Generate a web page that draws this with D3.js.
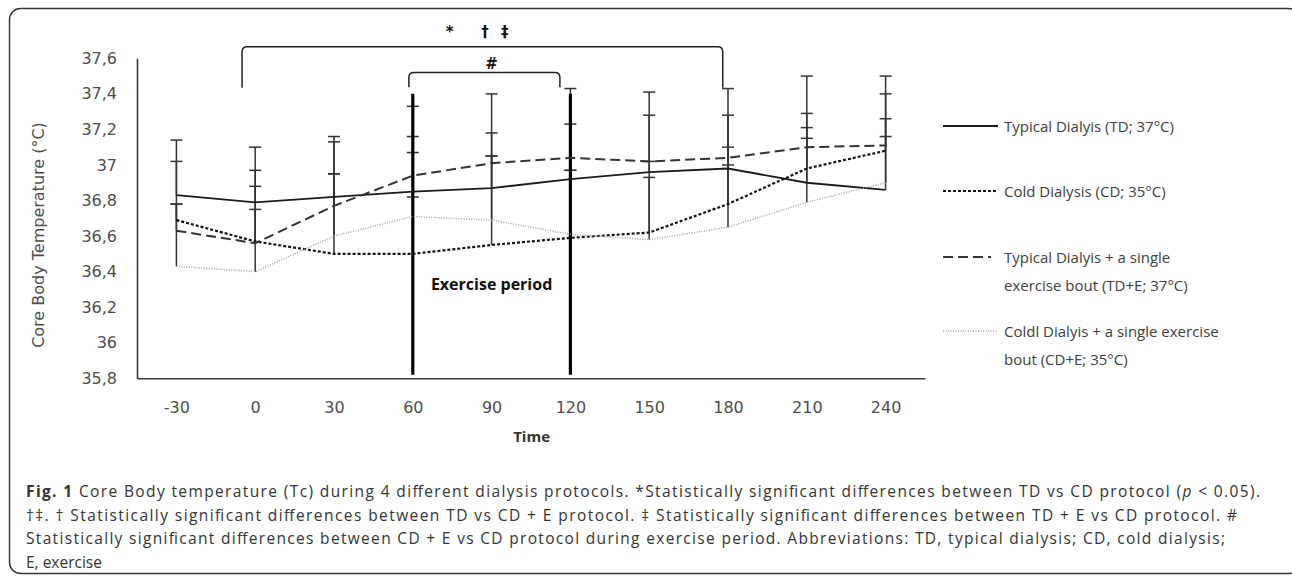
<!DOCTYPE html>
<html>
<head>
<meta charset="utf-8">
<script src="https://cdn.jsdelivr.net/npm/d3@7"></script>
<style>
  body { margin: 0; background: #fff; }
  svg { display: block; }
</style>
</head>
<body>
<div id="chart"></div>
<script>
// time points (min) and y ticks
var times = [-30, 0, 30, 60, 90, 120, 150, 180, 210, 240];
var yTicks = [35.8, 36, 36.2, 36.4, 36.6, 36.8, 37, 37.2, 37.4, 37.6];

// Typical Dialysis (TD)
var tdMean = [36.83, 36.79, 36.82, 36.85, 36.87, 36.92, 36.96, 36.98, 36.90, 36.86];
var tdSD   = [0.31, 0.31, 0.34, 0.48, 0.53, 0.51, 0.45, 0.45, 0.39, 0.30];
// Cold Dialysis (CD)
var cdMean = [36.69, 36.57, 36.50, 36.50, 36.55, 36.59, 36.62, 36.78, 36.98, 37.08];
var cdSD   = [0.33, 0.40, 0.45, 0.32, 0.50, 0.38, 0.40, 0.32, 0.23, 0.32];
// Typical Dialysis + exercise (TD+E)
var tdeMean = [36.63, 36.56, 36.77, 36.94, 37.01, 37.04, 37.02, 37.04, 37.10, 37.11];
var tdeSD   = [0.15, 0.32, 0.36, 0.22, 0.17, 0.19, 0.26, 0.24, 0.40, 0.39];
// Cold Dialysis + exercise (CD+E)
var cdeMean = [36.43, 36.40, 36.60, 36.71, 36.69, 36.61, 36.58, 36.65, 36.79, 36.90];
var cdeSD   = [0.35, 0.35, 0.35, 0.36, 0.36, 0.36, 0.35, 0.35, 0.36, 0.36];

var legendLabels = [
  ["Typical Dialyis (TD; 37°C)"],
  ["Cold Dialysis (CD; 35°C)"],
  ["Typical Dialyis  + a single", "exercise bout (TD+E; 37°C)"],
  ["Coldl Dialyis  + a single exercise", "bout (CD+E; 35°C)"]
];

// exercise period and significance brackets (in time / temperature units)
var exercise = { start: 60, end: 120, top: 37.4 };
var bigBracket = { from: -5, to: 178, top: 37.665, bottom: 37.435 };
var smallBracket = { from: 58.5, to: 116, top: 37.52, bottom: 37.437 };
var symbols = [
  { t: 74, v: 37.75, s: "*" },
  { t: 87.5, v: 37.75, s: "†" },
  { t: 95, v: 37.75, s: "‡" },
  { t: 90, v: 37.572, s: "#" }
];

var captionLines = [
  [{ t: "Fig. 1", b: true }, { t: " Core Body temperature (Tc) during 4 different dialysis protocols. *Statistically significant differences between TD vs CD protocol (" }, { t: "p", i: true }, { t: " < 0.05)." }],
  [{ t: "†‡. † Statistically significant differences between TD vs CD + E protocol. ‡ Statistically significant differences between TD + E vs CD protocol. #" }],
  [{ t: "Statistically significant differences between CD + E vs CD protocol during exercise period. Abbreviations: TD, typical dialysis; CD, cold dialysis;" }],
  [{ t: "E, exercise" }]
];
var captionWidths = [1234, 1211, 1199, null];

var W = 1292, H = 576;
var svg = d3.select("#chart").append("svg")
    .attr("width", W)
    .attr("height", H);

// outer frame
svg.append("rect")
    .attr("x", 9.5).attr("y", 8.5)
    .attr("width", 1290).attr("height", 565)
    .attr("rx", 11).attr("ry", 11)
    .attr("fill", "none")
    .attr("stroke", "#333")
    .attr("stroke-width", 1.4);

var x = d3.scalePoint().domain(times).range([137, 925]).padding(0.5);
var xLin = d3.scaleLinear().domain([-30, 240]).range([x(-30), x(240)]);
var y = d3.scaleLinear().domain([35.8, 37.6]).range([378.3, 58.3]);

var fmt = function(d) { return String(+d.toFixed(1)).replace(".", ","); };

// axes
var gy = svg.append("g").attr("transform", "translate(137,0)")
    .call(d3.axisLeft(y).tickValues(yTicks).tickSize(0).tickPadding(20).tickFormat(fmt));
var gx = svg.append("g").attr("transform", "translate(0,378.3)")
    .call(d3.axisBottom(x).tickSize(0).tickPadding(23).tickSizeOuter(0));
[gy, gx].forEach(function(g) {
  g.select(".domain").attr("stroke", "#3a3a3a").attr("stroke-width", 1.6);
  g.selectAll("text")
      .attr("font-family", "'DejaVu Sans', Verdana, sans-serif")
      .attr("font-size", 16)
      .attr("fill", "#4d4d4d");
});

svg.append("text")
    .attr("transform", "translate(44,235) rotate(-90)")
    .attr("text-anchor", "middle")
    .attr("font-family", "'DejaVu Sans', Verdana, sans-serif")
    .attr("font-size", 16)
    .attr("fill", "#4d4d4d")
    .text("Core Body Temperature (°C)");

svg.append("text")
    .attr("x", x(90) + 40).attr("y", 442)
    .attr("text-anchor", "middle")
    .attr("font-family", "'Open Sans', sans-serif")
    .attr("font-weight", "bold")
    .attr("font-size", 15)
    .attr("fill", "#333")
    .text("Time");

// series setup
var series = [
  { mean: tdMean, sd: tdSD },
  { mean: cdMean, sd: cdSD },
  { mean: tdeMean, sd: tdeSD },
  { mean: cdeMean, sd: cdeSD }
];
var styles = [
  { stroke: "#1a1a1a", width: 1.8, dash: null },
  { stroke: "#111", width: 2.2, dash: "3,2" },
  { stroke: "#333", width: 2, dash: "10,5" },
  { stroke: "#a0a0a0", width: 1.5, dash: "1,1.5" }
];

// error bars (plus direction, capped)
series.forEach(function(s) {
  var g = svg.append("g").attr("stroke", "#333").attr("stroke-width", 1.5);
  times.forEach(function(t, i) {
    var top = s.mean[i] + s.sd[i];
    g.append("line")
        .attr("x1", x(t)).attr("x2", x(t))
        .attr("y1", y(s.mean[i])).attr("y2", y(top));
    g.append("line")
        .attr("x1", x(t) - 6).attr("x2", x(t) + 6)
        .attr("y1", y(top)).attr("y2", y(top));
  });
});

// exercise period lines
[exercise.start, exercise.end].forEach(function(t) {
  svg.append("line")
      .attr("x1", x(t)).attr("x2", x(t))
      .attr("y1", y(exercise.top)).attr("y2", y(35.82))
      .attr("stroke", "#000")
      .attr("stroke-width", 3.2);
});

// series lines
var line = d3.line()
    .x(function(d, i) { return x(times[i]); })
    .y(function(d) { return y(d); });
series.forEach(function(s, k) {
  svg.append("path")
      .datum(s.mean)
      .attr("d", line)
      .attr("fill", "none")
      .attr("stroke", styles[k].stroke)
      .attr("stroke-width", styles[k].width)
      .attr("stroke-dasharray", styles[k].dash);
});

svg.append("text")
    .attr("x", xLin(90)).attr("y", 290)
    .attr("text-anchor", "middle")
    .attr("font-family", "'Open Sans', sans-serif")
    .attr("font-weight", "bold")
    .attr("font-size", 16)
    .attr("fill", "#111")
    .text("Exercise period");

// brackets
function bracketPath(b) {
  var x1 = xLin(b.from), x2 = xLin(b.to), yt = y(b.top), yb = y(b.bottom), r = 5;
  return "M" + x1 + "," + yb + " L" + x1 + "," + (yt + r) +
    " Q" + x1 + "," + yt + " " + (x1 + r) + "," + yt +
    " L" + (x2 - r) + "," + yt +
    " Q" + x2 + "," + yt + " " + x2 + "," + (yt + r) +
    " L" + x2 + "," + yb;
}
[bigBracket, smallBracket].forEach(function(b) {
  svg.append("path")
      .attr("d", bracketPath(b))
      .attr("fill", "none")
      .attr("stroke", "#222")
      .attr("stroke-width", 1.5);
});
svg.selectAll(".sym").data(symbols).enter().append("text")
    .attr("x", function(d) { return xLin(d.t); })
    .attr("y", function(d) { return y(d.v); })
    .attr("dy", "0.35em")
    .attr("text-anchor", "middle")
    .attr("font-family", "'DejaVu Sans', sans-serif")
    .attr("font-weight", "bold")
    .attr("font-size", 15)
    .attr("fill", "#111")
    .text(function(d) { return d.s; });

// legend
var legY = [126, 191, 257, 331];
legendLabels.forEach(function(lab, k) {
  svg.append("line")
      .attr("x1", 943).attr("x2", k === 2 ? 991 : 998)
      .attr("y1", legY[k]).attr("y2", legY[k])
      .attr("stroke", styles[k].stroke)
      .attr("stroke-width", styles[k].width)
      .attr("stroke-dasharray", styles[k].dash);
  var t = svg.append("text")
      .attr("font-family", "'Open Sans', sans-serif")
      .attr("font-size", 15)
      .attr("fill", "#404040");
  lab.forEach(function(s, j) {
    t.append("tspan")
        .attr("x", 1004)
        .attr("y", legY[k] + 5.5 + j * 28)
        .text(s);
  });
});

// caption
captionLines.forEach(function(parts, k) {
  var t = svg.append("text")
      .attr("x", 26)
      .attr("y", 497 + k * 23.5)
      .attr("font-family", "'Open Sans', sans-serif")
      .attr("font-size", 15.5)
      .attr("fill", "#333");
  if (captionWidths[k]) t.attr("textLength", captionWidths[k]).attr("lengthAdjust", "spacing");
  parts.forEach(function(p) {
    t.append("tspan")
        .attr("font-weight", p.b ? "bold" : null)
        .attr("font-style", p.i ? "italic" : null)
        .text(p.t);
  });
});
</script>
</body>
</html>
